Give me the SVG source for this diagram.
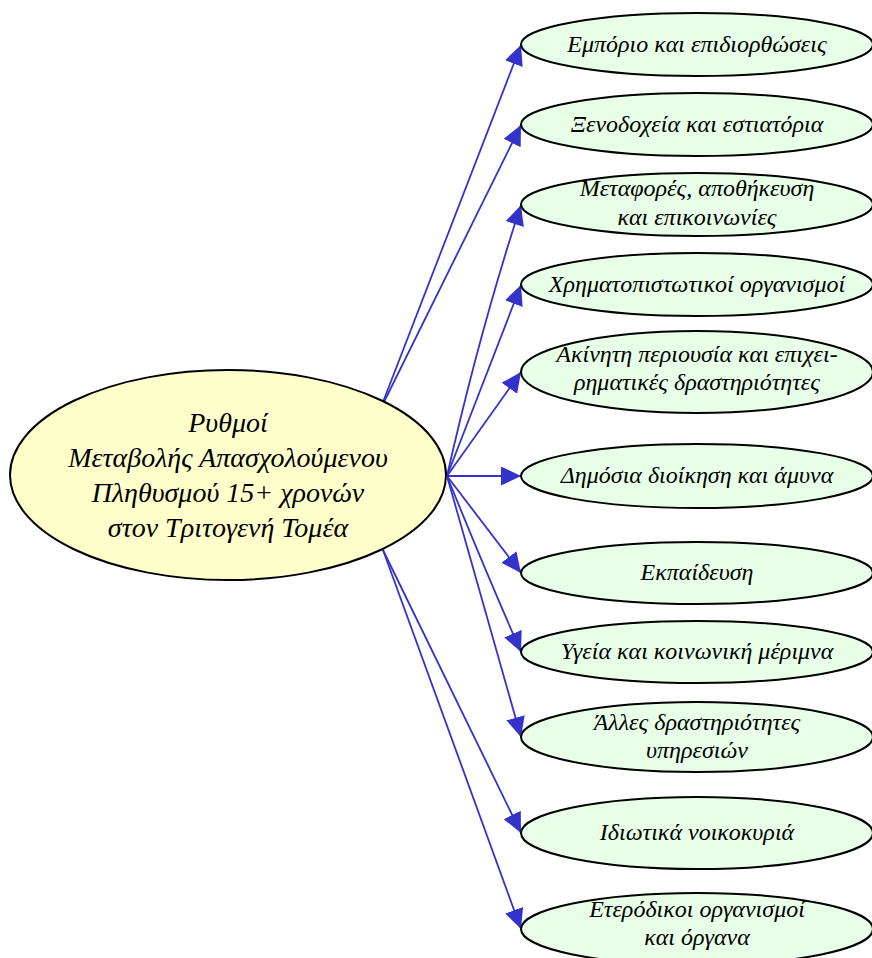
<svg xmlns="http://www.w3.org/2000/svg" width="872" height="958" viewBox="0 0 872 958">
<defs>
<marker id="ah" markerUnits="userSpaceOnUse" markerWidth="22" markerHeight="22" refX="20" refY="9.5" orient="auto" viewBox="0 0 22 22">
<path d="M0,0 L20,9.5 L0,19 Z" fill="#3333cc"/>
</marker>
<style>
.edge{fill:none;stroke:#3333cc;stroke-width:1.8;marker-end:url(#ah)}
.root{fill:#ffffcc;stroke:#000;stroke-width:2}
.leaf{fill:#e8ffe8;stroke:#000;stroke-width:2}
text{font-family:"Liberation Serif","DejaVu Serif",serif;font-style:italic;fill:#000;text-anchor:middle}
.t1{font-size:24px}
.t0{font-size:28px}
</style>
</defs>
<rect width="872" height="958" fill="#fff"/>
<g id="connectors">
<path class="edge" d="M383,402 L521,45"/>
<path class="edge" d="M384,402 L521,125"/>
<path class="edge" d="M447,476 Q480,330 521,205"/>
<path class="edge" d="M447,476 L521,285"/>
<path class="edge" d="M447,476 L521,372"/>
<path class="edge" d="M447,476 L521,476"/>
<path class="edge" d="M447,476 L521,573"/>
<path class="edge" d="M447,476 Q485,570 521,652"/>
<path class="edge" d="M447,476 L521,737"/>
<path class="edge" d="M383,550 L521,833"/>
<path class="edge" d="M383,550 L521,929"/>
</g>
<g id="root">
<ellipse class="root" cx="228" cy="475" rx="218" ry="105"/>
<text class="t0" x="228" y="432">Ρυθμοί</text>
<text class="t0" x="228" y="467">Μεταβολής Απασχολούμενου</text>
<text class="t0" x="228" y="502">Πληθυσμού 15+ χρονών</text>
<text class="t0" x="228" y="537">στον Τριτογενή Τομέα</text>
</g>
<g id="n1">
<ellipse class="leaf" cx="697" cy="44.5" rx="176" ry="31.5"/>
<text class="t1" x="697" y="52">Εμπόριο και επιδιορθώσεις</text>
</g>
<g id="n2">
<ellipse class="leaf" cx="697" cy="124.5" rx="176" ry="31.5"/>
<text class="t1" x="697" y="132">Ξενοδοχεία και εστιατόρια</text>
</g>
<g id="n3">
<ellipse class="leaf" cx="697" cy="204.5" rx="176" ry="31.5"/>
<text class="t1" x="697" y="196">Μεταφορές, αποθήκευση</text>
<text class="t1" x="697" y="224.5">και επικοινωνίες</text>
</g>
<g id="n4">
<ellipse class="leaf" cx="697" cy="284.5" rx="176" ry="31.5"/>
<text class="t1" x="697" y="292">Χρηματοπιστωτικοί οργανισμοί</text>
</g>
<g id="n5">
<ellipse class="leaf" cx="697" cy="372" rx="176" ry="41"/>
<text class="t1" x="697" y="362">Ακίνητη περιουσία και επιχει-</text>
<text class="t1" x="697" y="390">ρηματικές δραστηριότητες</text>
</g>
<g id="n6">
<ellipse class="leaf" cx="697" cy="476" rx="176" ry="32"/>
<text class="t1" x="697" y="483">Δημόσια διοίκηση και άμυνα</text>
</g>
<g id="n7">
<ellipse class="leaf" cx="697" cy="573" rx="176" ry="31"/>
<text class="t1" x="697" y="580">Εκπαίδευση</text>
</g>
<g id="n8">
<ellipse class="leaf" cx="697" cy="652" rx="176" ry="31"/>
<text class="t1" x="697" y="659">Υγεία και κοινωνική μέριμνα</text>
</g>
<g id="n9">
<ellipse class="leaf" cx="697" cy="737" rx="176" ry="35"/>
<text class="t1" x="697" y="730">Άλλες δραστηριότητες</text>
<text class="t1" x="697" y="758">υπηρεσιών</text>
</g>
<g id="n10">
<ellipse class="leaf" cx="697" cy="833" rx="176" ry="36"/>
<text class="t1" x="697" y="840">Ιδιωτικά νοικοκυριά</text>
</g>
<g id="n11">
<ellipse class="leaf" cx="697" cy="929" rx="176" ry="36"/>
<text class="t1" x="697" y="917">Ετερόδικοι οργανισμοί</text>
<text class="t1" x="697" y="945">και όργανα</text>
</g>
</svg>
